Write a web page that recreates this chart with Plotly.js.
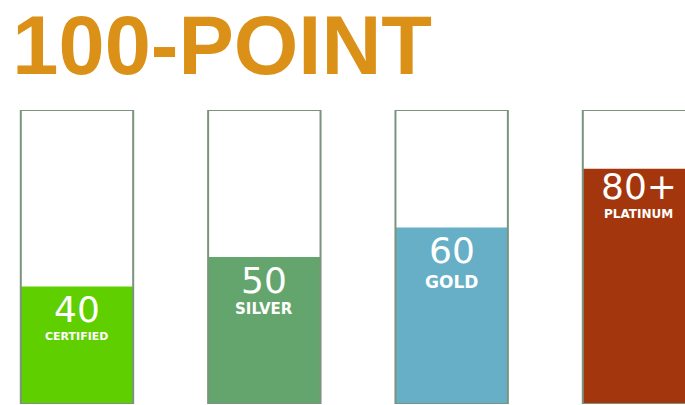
<!DOCTYPE html>
<html>
<head>
<meta charset="utf-8">
<script src="https://cdn.plot.ly/plotly-3.0.1.min.js"></script>
<style>html,body{margin:0;padding:0;background:#fff;}#chart{width:685px;height:405px;}</style>
</head>
<body>
<div id="chart"></div>
<script>
// ---- data ----
const levels = ["CERTIFIED", "SILVER", "GOLD", "PLATINUM"];
const points = [40, 50, 60, 80];
const pointLabels = ["40", "50", "60", "80+"];
const scaleMax = [100, 100, 100, 100];
const titleText = "100-POINT";

// ---- styles ----
const fillColors = ["#5fcf00", "#63a56c", "#66afc7", "#a3360d"];
const outlineColor = "#7b947d";
const subSizes = [11, 15, 17, 12];
const numShift = [-23, -23, -23, -18];
const subShift = [-50, -52, -54, -45];

const idx = levels.map((_, i) => i);

const fillTrace = {
  type: "bar", x: idx, y: points, width: 0.6,
  marker: {color: fillColors, line: {width: 0}},
  hoverinfo: "skip", showlegend: false
};
const outlineTrace = {
  type: "bar", x: idx, y: scaleMax, width: 0.6,
  marker: {color: "rgba(0,0,0,0)", line: {width: 2, color: outlineColor}},
  hoverinfo: "skip", showlegend: false
};

const annotations = [];
idx.forEach(i => {
  annotations.push({
    x: i, y: points[i], xref: "x", yref: "y",
    text: pointLabels[i], showarrow: false,
    xanchor: "center", yanchor: "middle", yshift: numShift[i],
    font: {family: "DejaVu Sans", size: 36, color: "#ffffff"}
  });
  annotations.push({
    x: i, y: points[i], xref: "x", yref: "y",
    text: "<b>" + levels[i] + "</b>", showarrow: false,
    xanchor: "center", yanchor: "middle", yshift: subShift[i],
    font: {family: "DejaVu Sans", size: subSizes[i], color: "#ffffff"}
  });
});

const layout = {
  width: 685, height: 405,
  margin: {l: 0, r: 0, t: 110, b: 1, pad: 0},
  paper_bgcolor: "#ffffff", plot_bgcolor: "#ffffff",
  barmode: "overlay",
  title: {
    text: "<b>" + titleText + "</b>",
    xref: "container", yref: "container",
    x: 0.018, xanchor: "left", y: 0.962, yanchor: "top",
    font: {family: "Liberation Sans", size: 83, color: "#db9118"}
  },
  xaxis: {range: [-0.411, 3.2456], showgrid: false, zeroline: false, showticklabels: false, showline: false, fixedrange: true},
  yaxis: {range: [0, 100], showgrid: false, zeroline: false, showticklabels: false, showline: false, fixedrange: true},
  annotations: annotations,
  showlegend: false
};

Plotly.newPlot("chart", [fillTrace, outlineTrace], layout, {displayModeBar: false, staticPlot: true});
</script>
</body>
</html>
